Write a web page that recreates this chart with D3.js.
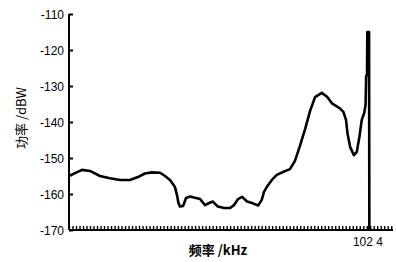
<!DOCTYPE html>
<html>
<head>
<meta charset="utf-8">
<script src="https://cdn.jsdelivr.net/npm/d3@7"></script>
<style>
  body { margin: 0; background: #fff; }
  svg { display: block; }
  .tick text { font-family: "Liberation Sans", Arial, sans-serif; font-size: 12px; fill: #000; }
  .lbl { font-family: "Noto Sans CJK SC", "Liberation Sans", sans-serif; font-size: 13px; font-weight: bold; fill: #000; }
</style>
</head>
<body>
<svg id="chart" width="396" height="262"></svg>
<script>
// frequency (kHz)
const freq = [0, 2.06, 4.45, 7.19, 10.6, 14.0, 17.5, 20.9, 23.6, 26.0, 28.4, 31.2, 32.9, 34.6, 35.6, 36.3,
  37.0, 37.5, 38.0, 39.1, 40.1, 41.5, 42.8, 44.9, 46.6, 48.0, 49.3, 51.0, 53.1, 55.2, 56.5, 57.9, 59.3,
  61.0, 63.0, 64.8, 66.0, 66.8, 67.8, 69.5, 71.2, 73.3, 75.7, 77.4, 79.1, 80.9, 82.6, 84.3, 86.6, 88.4,
  90.1, 92.8, 94.0, 94.9, 95.4, 96.3, 97.6, 98.6, 99.5, 100.3, 101.1, 101.6, 101.8, 102.1, 102.2, 102.8, 102.9];
// power (dBW)
const power = [-155.0, -154.2, -153.3, -153.6, -155.0, -155.6, -156.1, -156.1, -155.3, -154.3, -154.0, -154.1,
  -155.0, -156.1, -157.2, -158.1, -160.3, -162.5, -163.5, -163.3, -161.1, -160.7, -161.0, -161.4, -163.1,
  -162.5, -162.1, -163.5, -163.9, -163.9, -163.1, -161.4, -160.8, -162.1, -162.6, -163.2, -161.7, -159.4,
  -158.0, -156.1, -154.7, -153.9, -153.1, -150.8, -146.7, -141.9, -136.9, -133.1, -131.9, -133.0, -134.8,
  -136.2, -137.2, -139.4, -143.1, -146.9, -149.2, -148.3, -144.1, -139.4, -137.6, -135.3, -127.2, -126.9,
  -115.0, -115.0, -170];
const yTicks = [-110, -120, -130, -140, -150, -160, -170];
const xLabelValue = 102.4;
const xLabelText = "102 4";
const xMinorStep = 1.2;

const margin = {left: 69, top: 14, right: 3, bottom: 32};
const svg = d3.select("#chart");
const W = 396, H = 262;

const x = d3.scaleLinear().domain([0, 111]).range([margin.left, W - margin.right]);
const y = d3.scaleLinear().domain([-170, -110]).range([H - margin.bottom, margin.top]);

// y axis, ticks pointing inward
const yAxis = svg.append("g")
    .attr("transform", "translate(" + margin.left + ",0)")
    .call(d3.axisRight(y).tickValues(yTicks).tickSize(4).tickFormat(d => String(d)));
yAxis.select(".domain").attr("stroke-width", 2).attr("d", "M0," + y(-110) + "V" + y(-170));
yAxis.selectAll(".tick line").attr("stroke-width", 2);
yAxis.selectAll(".tick text").attr("x", -5).attr("text-anchor", "end").attr("dy", "0.36em");

// x axis with dense minor ticks
const xAxis = svg.append("g")
    .attr("transform", "translate(0," + y(-170) + ")")
    .call(d3.axisTop(x).tickValues(d3.range(0, 111, xMinorStep)).tickSize(4).tickFormat(""));
xAxis.select(".domain").attr("stroke-width", 2).attr("d", "M" + x(0) + ",0H" + x(111));
xAxis.selectAll(".tick line").attr("stroke-width", 1.4);

svg.append("text")
    .attr("x", x(xLabelValue)).attr("y", y(-170) + 16)
    .attr("text-anchor", "middle")
    .style("font-family", "Liberation Sans, Arial, sans-serif")
    .style("font-size", "12px")
    .text(xLabelText);

// trace
const pts = freq.map((f, i) => [f, power[i]]);
svg.append("path")
    .datum(pts)
    .attr("fill", "none")
    .attr("stroke", "#000")
    .attr("stroke-width", 2.6)
    .attr("stroke-linejoin", "round")
    .attr("d", d3.line().x(d => x(d[0])).y(d => y(d[1])));

// axis titles
svg.append("text").attr("class", "lbl")
    .attr("x", 218).attr("y", 255)
    .attr("text-anchor", "middle")
    .text("频率 /kHz");
svg.append("text").attr("class", "lbl")
    .attr("transform", "translate(26,118) rotate(-90)")
    .attr("text-anchor", "middle")
    .style("font-weight", "normal")
    .text("功率 /dBW");
</script>
</body>
</html>
